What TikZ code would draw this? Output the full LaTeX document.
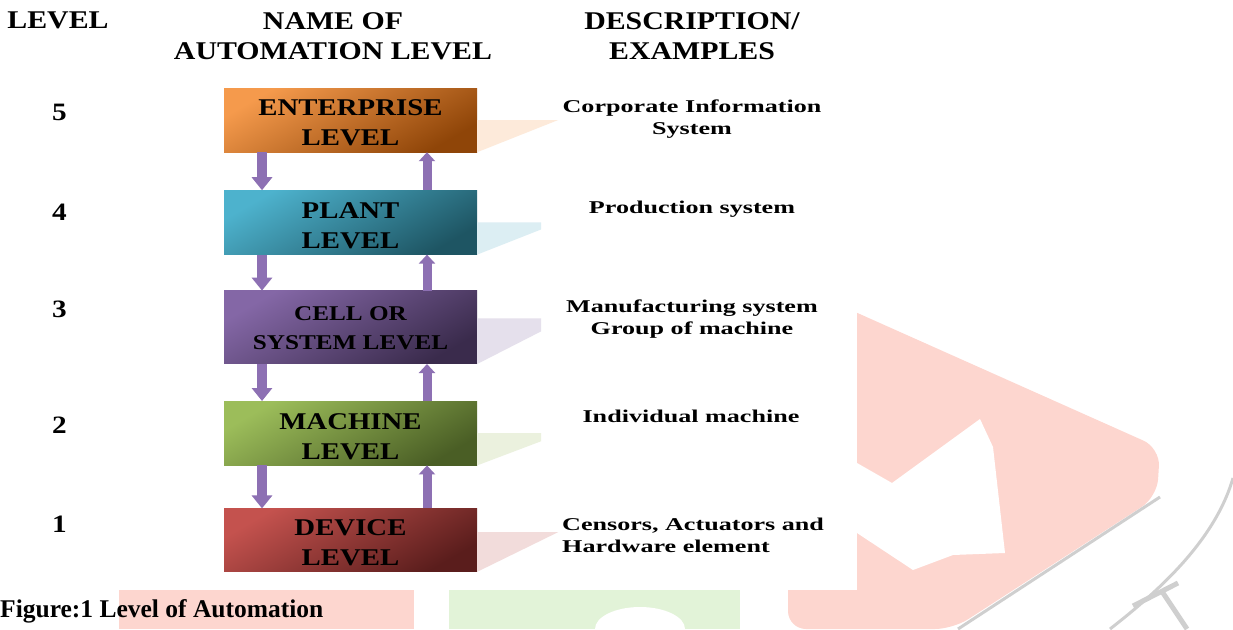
\documentclass[tikz,border=0pt]{standalone}
\usepackage{fontspec}
\setmainfont{Liberation Serif}
\newfontfamily\headfont[FakeStretch=1.17]{Liberation Serif}
\newfontfamily\levelfont[FakeStretch=1.2]{Liberation Serif}
\newfontfamily\descfont[FakeStretch=1.45]{Liberation Serif}
\usetikzlibrary{arrows.meta, positioning, calc}

% box colours (light corner / dark corner) and their soft reflections
\definecolor{entlight}{HTML}{F59A4C}
\definecolor{entdark}{HTML}{8F4508}
\definecolor{plantlight}{HTML}{4DB2CD}
\definecolor{plantdark}{HTML}{1E5563}
\definecolor{celllight}{HTML}{8467A6}
\definecolor{celldark}{HTML}{3A2B4C}
\definecolor{machlight}{HTML}{9CBD5A}
\definecolor{machdark}{HTML}{4A5E25}
\definecolor{devlight}{HTML}{C4524E}
\definecolor{devdark}{HTML}{5A1D1C}
\definecolor{entshadow}{HTML}{FDEADA}
\definecolor{plantshadow}{HTML}{DCEEF3}
\definecolor{cellshadow}{HTML}{E5E0EC}
\definecolor{machshadow}{HTML}{EBF1DE}
\definecolor{devshadow}{HTML}{F2DCDB}
\definecolor{flowpurple}{HTML}{8D70B3}
\definecolor{markpink}{HTML}{FDD6CF}
\definecolor{markgreen}{HTML}{E2F3D8}
\definecolor{markgray}{HTML}{CFCFCF}

\tikzset{
    header/.style={inner sep=0pt, align=center, font=\headfont\bfseries\fontsize{25.5}{30}\selectfont},
    levelnum/.style={inner sep=0pt, anchor=base, font=\headfont\bfseries\fontsize{25}{30}\selectfont},
    lvlbox/.style={minimum width=253pt, minimum height=64pt, inner sep=0pt, align=center, text=black,
        font=\levelfont\bfseries\fontsize{24}{30}\selectfont,
        execute at begin node={\rule{0pt}{52pt}}},
    boxfill/.style 2 args={top color=#1, bottom color=#2, shading angle=30},
    desc/.style={inner sep=0pt, align=center, font=\descfont\bfseries\fontsize{18}{22}\selectfont},
    caption/.style={inner sep=0pt, font=\bfseries\fontsize{25.5}{30}\selectfont},
    downflow/.style={line width=10pt, draw=flowpurple, -{Triangle[width=20pt, length=13pt]}},
    upflow/.style={line width=9pt, draw=flowpurple, -{Triangle[width=16pt, length=9pt]}}
}

\begin{document}
\begin{tikzpicture}[x=1pt, y=1pt]
    \useasboundingbox (0,0) rectangle (1233,-629);

    % faint logo behind the figure
    \fill[markpink, rounded corners=18pt] (788,-282) -- (1160,-448) -- (1157,-497) -- (953,-629) -- (788,-629) -- cycle;
    \fill[white] (857,-463) -- (892,-483) -- (980,-419) -- (993,-447) -- (1005,-553) -- (953,-555) -- (913,-570) -- (857,-533) -- cycle;
    \draw[markgray, line width=3pt] (1160,-497) -- (958,-629);
    \draw[markgray, line width=3pt] (1233,-478) .. controls (1215,-540) and (1160,-590) .. (1110,-629);
    \draw[markgray, line width=5pt] (1133,-606) -- (1178,-583);
    \draw[markgray, line width=5pt] (1163,-593) -- (1187,-629);
    \fill[markpink] (119,-590) rectangle (414,-629);
    \fill[markgreen] (449,-590) rectangle (740,-629);
    \fill[white] (640,-629) ellipse (45pt and 22pt);
    \fill[white] (0,0) rectangle (857,-590);

    % column headings
    \node[header, anchor=north] (hlevel) at (58,-12) {LEVEL};
    \node[header, anchor=north] (hname) at (333,-12) {NAME OF\\AUTOMATION LEVEL};
    \node[header, anchor=north] (hdesc) at (692,-12) {DESCRIPTION/\\EXAMPLES};

    % the five levels
    \node[lvlbox, boxfill={entlight}{entdark}] (enterprise) at (350.5,-120) {ENTERPRISE\\LEVEL};
    \node[lvlbox, boxfill={plantlight}{plantdark}, below=38pt of enterprise] (plant) {PLANT\\LEVEL};
    \node[lvlbox, boxfill={celllight}{celldark}, minimum height=73pt, below=36pt of plant,
        font=\levelfont\bfseries\fontsize{21}{29}\selectfont,
        execute at begin node={}, execute at end node={\rule[-7pt]{0pt}{7pt}}] (cell) {CELL OR\\SYSTEM LEVEL};
    \node[lvlbox, boxfill={machlight}{machdark}, below=37pt of cell] (machine) {MACHINE\\LEVEL};
    \node[lvlbox, boxfill={devlight}{devdark}, minimum height=63pt, below=43pt of machine] (device) {DEVICE\\LEVEL};

    % reflections to the right of the boxes
    \fill[entshadow] (enterprise.east) -- ++(81,0) -- (enterprise.south east) -- cycle;
    \fill[plantshadow] (plant.east) -- ++(64,0) -- ++(0,-7) -- (plant.south east) -- cycle;
    \fill[cellshadow] ($(cell.east)+(0,9)$) -- ++(64,0) -- ++(0,-13) -- (cell.south east) -- cycle;
    \fill[machshadow] (machine.east) -- ++(64,0) -- ++(0,-8) -- (machine.south east) -- cycle;
    \fill[devshadow] ($(device.east)+(0,8)$) -- ++(81,0) -- (device.south east) -- cycle;

    % information flow between levels
    \draw[downflow] ([xshift=-88.5pt]enterprise.south) -- ([xshift=-88.5pt]plant.north);
    \draw[upflow] ([xshift=76.5pt]plant.north) -- ([xshift=76.5pt]enterprise.south);
    \draw[downflow] ([xshift=-88.5pt]plant.south) -- ([xshift=-88.5pt]cell.north);
    \draw[upflow] ([xshift=76.5pt]cell.north) -- ([xshift=76.5pt]plant.south);
    \draw[downflow] ([xshift=-88.5pt]cell.south) -- ([xshift=-88.5pt]machine.north);
    \draw[upflow] ([xshift=76.5pt]machine.north) -- ([xshift=76.5pt]cell.south);
    \draw[downflow] ([xshift=-88.5pt]machine.south) -- ([xshift=-88.5pt]device.north);
    \draw[upflow] ([xshift=76.5pt]device.north) -- ([xshift=76.5pt]machine.south);

    % level numbers
    \node[levelnum] (n5) at (59.5,-120) {5};
    \node[levelnum] (n4) at (59.5,-220) {4};
    \node[levelnum] (n3) at (59.5,-317) {3};
    \node[levelnum] (n2) at (59.5,-433) {2};
    \node[levelnum] (n1) at (59.5,-532) {1};

    % examples
    \node[desc, anchor=north] (dent) at (692,-100) {Corporate Information\\System};
    \node[desc, anchor=north] (dplant) at (692,-201) {Production system};
    \node[desc, anchor=north] (dcell) at (692,-300) {Manufacturing system\\Group of machine};
    \node[desc, anchor=north] (dmachine) at (691,-410) {Individual machine};
    \node[desc, anchor=north west, align=left] (ddevice) at (562,-518) {Censors, Actuators and\\Hardware element};

    \node[caption, anchor=base west] (fig) at (0,-617) {Figure:1 Level of Automation};
\end{tikzpicture}
\end{document}
